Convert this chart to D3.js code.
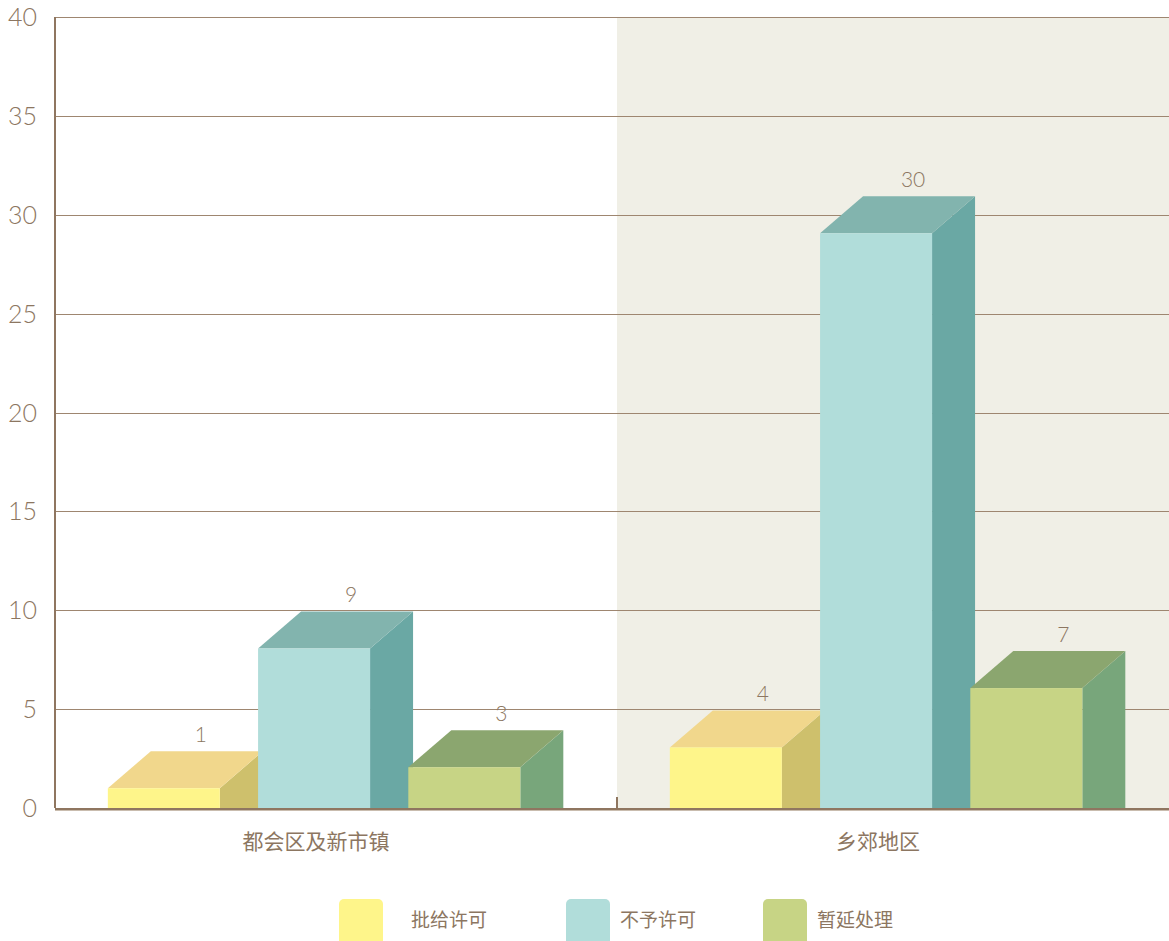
<!DOCTYPE html>
<html lang="zh">
<head>
<meta charset="utf-8">
<title>许可申请</title>
<script src="https://cdn.jsdelivr.net/npm/d3@7/dist/d3.min.js"></script>
<style>
    body { margin: 0; background: #fff; }
    svg text { font-family: "Lato", "Noto Sans CJK SC", sans-serif; fill: #8c7661; }
    .cjk { font-family: "Noto Sans CJK SC", sans-serif; }
</style>
</head>
<body>
<div id="chart"></div>
<script>
// data
var categories = ["都会区及新市镇", "乡郊地区"];
var series = ["批给许可", "不予许可", "暂延处理"];
var values = [
    [1, 9, 3],
    [4, 30, 7]
];
var yTicks = [0, 5, 10, 15, 20, 25, 30, 35, 40];

// colours per series: front, top, side
var front = ["#fef58a", "#b1ddda", "#c7d485"];
var topc  = ["#f1d78c", "#82b4ae", "#8ba66f"];
var side  = ["#cec06c", "#6aa8a4", "#78a67b"];

var width = 1169, height = 941;
var margin = {top: 17, left: 55, bottom: 133};
var dx = 43, dy = 37;   // depth of the 3d boxes

var svg = d3.select("#chart").append("svg")
    .attr("width", width)
    .attr("height", height);

// plot runs a little past the right edge of the picture
var x0 = d3.scaleBand()
    .domain(categories)
    .range([margin.left, 1179]);

var y = d3.scaleLinear()
    .domain([0, 40])
    .range([height - margin.bottom, margin.top]);

var y0 = y(0);

// shaded second band
svg.append("rect")
    .attr("x", x0(categories[1]))
    .attr("y", y(40))
    .attr("width", x0.bandwidth())
    .attr("height", y0 - y(40))
    .attr("fill", "#f0efe6");

// gridlines
svg.append("g")
    .selectAll("line")
    .data(yTicks.filter(function(d) { return d > 0; }))
    .enter().append("line")
    .attr("x1", margin.left)
    .attr("x2", width)
    .attr("y1", function(d) { return Math.round(y(d)) + 0.5; })
    .attr("y2", function(d) { return Math.round(y(d)) + 0.5; })
    .attr("stroke", "#9e8670")
    .attr("stroke-width", 1);

// tick labels
svg.append("g")
    .selectAll("text")
    .data(yTicks)
    .enter().append("text")
    .attr("x", 37)
    .attr("y", function(d) { return y(d); })
    .attr("dy", "0.36em")
    .attr("text-anchor", "end")
    .style("font-size", "25px")
    .style("font-weight", 300)
    .text(function(d) { return d; });

// bars
var x1 = d3.scaleBand()
    .domain(series)
    .range([0.094 * x0.bandwidth(), 0.896 * x0.bandwidth()]);
var barW = 112;
var minFront = y0 - y(1);

var groups = svg.append("g")
    .selectAll("g")
    .data(categories)
    .enter().append("g")
    .attr("transform", function(d) { return "translate(" + x0(d) + ",0)"; });

groups.each(function(cat, ci) {
    var g = d3.select(this);
    series.forEach(function(s, si) {
        var v = values[ci][si];
        var bx = x1(s);
        var frontTop = Math.min(y(v) + dy / 2, y0 - minFront);
        var b = g.append("g");
        // side
        b.append("path")
            .attr("d", "M" + (bx + barW) + "," + frontTop +
                       "L" + (bx + barW + dx) + "," + (frontTop - dy) +
                       "L" + (bx + barW + dx) + "," + y0 +
                       "L" + (bx + barW) + "," + y0 + "Z")
            .attr("fill", side[si]);
        // top
        b.append("path")
            .attr("d", "M" + bx + "," + frontTop +
                       "L" + (bx + dx) + "," + (frontTop - dy) +
                       "L" + (bx + barW + dx) + "," + (frontTop - dy) +
                       "L" + (bx + barW) + "," + frontTop + "Z")
            .attr("fill", topc[si]);
        // front
        b.append("rect")
            .attr("x", bx)
            .attr("y", frontTop)
            .attr("width", barW)
            .attr("height", y0 - frontTop)
            .attr("fill", front[si]);
        // value label
        b.append("text")
            .attr("x", bx + barW / 2 + dx - 6)
            .attr("y", frontTop - dy - 17)
            .attr("dy", "0.36em")
            .attr("text-anchor", "middle")
            .style("font-size", "21px")
            .style("font-weight", 300)
            .text(v);
    });
});

// axes lines
svg.append("line")
    .attr("x1", margin.left).attr("x2", margin.left)
    .attr("y1", margin.top).attr("y2", y0)
    .attr("stroke", "#8f7660").attr("stroke-width", 2);
svg.append("line")
    .attr("x1", margin.left).attr("x2", width)
    .attr("y1", y0 + 1).attr("y2", y0 + 1)
    .attr("stroke", "#8f7660").attr("stroke-width", 2);
svg.append("line")
    .attr("x1", margin.left).attr("x2", width)
    .attr("y1", y0 + 2.5).attr("y2", y0 + 2.5)
    .attr("stroke", "#c9bcae").attr("stroke-width", 1);
svg.append("line")
    .attr("x1", x0(categories[1])).attr("x2", x0(categories[1]))
    .attr("y1", y0 - 11).attr("y2", y0)
    .attr("stroke", "#8f7660").attr("stroke-width", 2);

// category labels
svg.append("g")
    .selectAll("text")
    .data(categories)
    .enter().append("text")
    .attr("class", "cjk")
    .attr("x", function(d) { return x0(d) + x0.bandwidth() / 2 - 20; })
    .attr("y", y0 + 33)
    .attr("dy", "0.36em")
    .attr("text-anchor", "middle")
    .style("font-size", "21px")
    .text(function(d) { return d; });

// legend
var legendX = [339, 566, 763];
var legendTextX = [411, 620, 817];
var legend = svg.append("g")
    .selectAll("g")
    .data(series)
    .enter().append("g");
legend.append("rect")
    .attr("x", function(d, i) { return legendX[i]; })
    .attr("y", 899)
    .attr("width", 44)
    .attr("height", 50)
    .attr("rx", 5)
    .attr("fill", function(d, i) { return front[i]; });
legend.append("text")
    .attr("class", "cjk")
    .attr("x", function(d, i) { return legendTextX[i]; })
    .attr("y", 920)
    .attr("dy", "0.36em")
    .style("font-size", "19px")
    .text(function(d) { return d; });
</script>
</body>
</html>
